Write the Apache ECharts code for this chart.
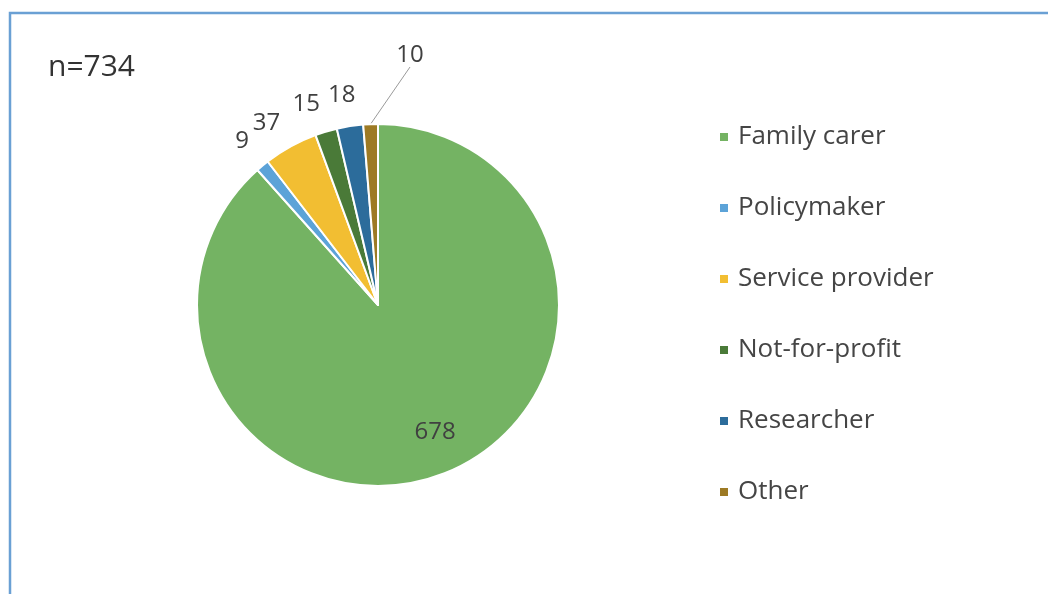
<!DOCTYPE html>
<html>
<head>
<meta charset="utf-8">
<script src="https://cdn.jsdelivr.net/npm/echarts@6/dist/echarts.min.js"></script>
<style>
  html, body { margin: 0; padding: 0; background: #ffffff; }
  #chart { width: 1048px; height: 594px; }
</style>
</head>
<body>
<div id="chart"></div>
<script>
// Respondent groups and their counts
const categories = ['Family carer', 'Policymaker', 'Service provider', 'Not-for-profit', 'Researcher', 'Other'];
const counts = [678, 9, 37, 15, 18, 10];
const colors = ['#74b363', '#5ca3d8', '#f2be32', '#4a7a38', '#2c6c9b', '#9d7a24'];
const sampleLabel = 'n=734';

const center = [378, 305];
const radius = 181;
const total = counts.reduce((a, b) => a + b, 0);

// Mid-angle of each slice, measured clockwise from 12 o'clock (degrees)
const midAngles = [];
let acc = 0;
counts.forEach(v => {
  const span = v / total * 360;
  midAngles.push(acc + span / 2);
  acc += span;
});

// Small angular nudges (degrees) that spread the crowded outside labels apart
const labelNudge = [-3.3, 0, -2.7, -3, -0.9, 0];

function polar(r, deg) {
  const a = deg * Math.PI / 180;
  return [center[0] + r * Math.sin(a), center[1] - r * Math.cos(a)];
}

const chart = echarts.init(document.getElementById('chart'), null, { renderer: 'canvas' });

chart.setOption({
  backgroundColor: '#ffffff',
  animation: false,
  color: colors,
  graphic: [
    {
      type: 'rect',
      shape: { x: 10, y: 13, width: 1100, height: 700 },
      style: { fill: null, stroke: '#6aa0d4', lineWidth: 2.5 }
    },
    {
      type: 'text',
      left: 48,
      top: 52,
      style: {
        text: sampleLabel,
        font: '30px "Open Sans"',
        fill: '#333333'
      }
    }
  ],
  legend: {
    orient: 'vertical',
    left: 713,
    top: 119,
    itemWidth: 10,
    itemHeight: 10,
    itemGap: 45,
    icon: 'rect',
    data: categories,
    textStyle: {
      fontFamily: 'Open Sans',
      fontSize: 26,
      color: '#454545',
      padding: [0, 0, 0, 4]
    }
  },
  series: [{
    type: 'pie',
    center: center,
    radius: radius,
    startAngle: 90,
    clockwise: true,
    avoidLabelOverlap: false,
    itemStyle: { borderColor: '#ffffff', borderWidth: 2 },
    label: {
      show: true,
      position: 'outside',
      formatter: '{c}',
      fontFamily: 'Open Sans',
      fontSize: 24,
      color: '#404040'
    },
    labelLine: { show: false, length: 10, length2: 0 },
    data: categories.map((name, i) => {
      const item = { name: name, value: counts[i] };
      if (i === counts.length - 1) {
        item.labelLine = { show: true, lineStyle: { color: '#9a9a9a', width: 1 } };
      }
      return item;
    }),
    labelLayout: function (params) {
      const i = params.dataIndex;
      const ang = midAngles[i] + labelNudge[i];
      let p;
      if (i === 0) {
        p = polar(radius * 0.77, ang);
      } else if (i === counts.length - 1) {
        p = [center[0] + 32, center[1] - 250];
      } else {
        p = polar(radius + 32, ang);
      }
      return { x: p[0], y: p[1], align: 'center', verticalAlign: 'middle' };
    }
  }]
});
</script>
</body>
</html>
